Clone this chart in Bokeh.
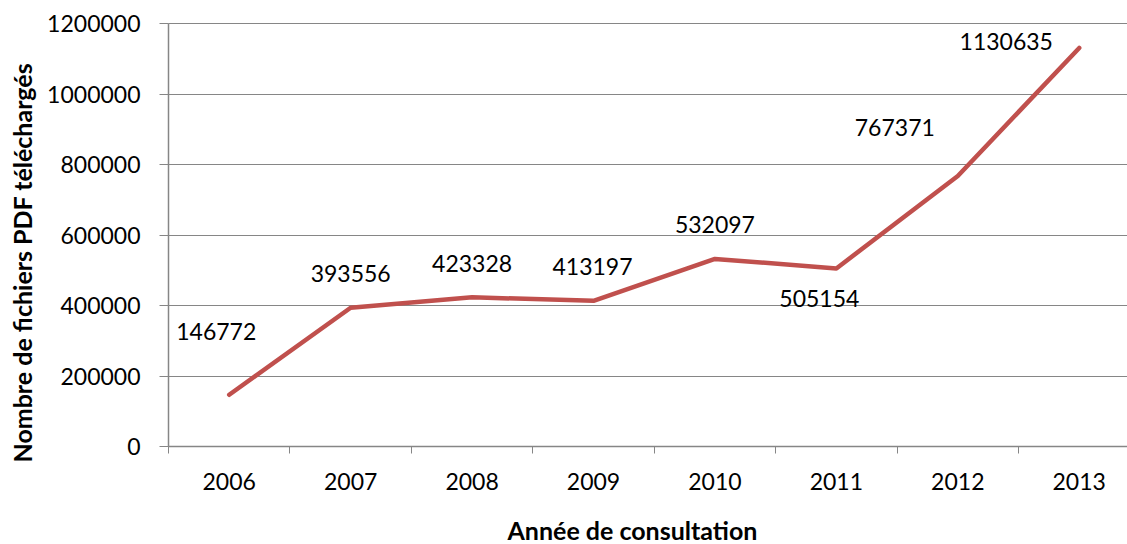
import math
from bokeh.plotting import figure
from bokeh.models import (ColumnDataSource, FixedTicker, BasicTickFormatter, Range1d, Label)
from bokeh.core.properties import value
from bokeh.embed import file_html
from bokeh.resources import INLINE

years = ["2006", "2007", "2008", "2009", "2010", "2011", "2012", "2013"]
downloads = [146772, 393556, 423328, 413197, 532097, 505154, 767371, 1130635]
y_ticks = [0, 200000, 400000, 600000, 800000, 1000000, 1200000]
y_max = 1200000

# label placement offsets (pixels, screen direction) – style only
label_dx = [-13, 0, 0, -1, 0, -17, -63, -73]
label_dy = [-63, -34, -34, -34, -34, 30, -49, -6]

FONT = "Lato"
GRAY = "#868686"
RED = "#C0504D"

xs = list(range(len(years)))
src = ColumnDataSource(dict(x=xs, y=downloads, lab=[str(v) for v in downloads],
                            dx=label_dx, dy=label_dy))

W, H = 1127, 544
axis_px = 168           # pixel position of the value axis
top_px = 23             # pixel position of the y_max gridline
plot_h = 423            # pixel height of the 0..y_max band
below_zero = H - top_px - plot_h
cat_w = 121.43
x0 = -0.5
x_start = x0 - axis_px / cat_w
x_end = x0 + (W - axis_px) / cat_w
per_px = y_max / plot_h

p = figure(width=W, height=H, output_backend="svg", toolbar_location=None,
           x_range=Range1d(x_start, x_end),
           y_range=Range1d(-below_zero * per_px, y_max + top_px * per_px),
           min_border_left=0, min_border_right=0,
           min_border_top=0, min_border_bottom=0)
p.outline_line_color = None
p.background_fill_color = "white"
p.border_fill_color = "white"

p.line("x", "y", source=src, line_color=RED, line_width=4.5, line_cap="round", line_join="round")
p.text("x", "y", text="lab", source=src, x_offset="dx", y_offset="dy",
       text_align="center", text_baseline="middle", text_font=value(FONT),
       text_font_size="23px", text_color="black")

# x axis, drawn at y = 0
xa = p.xaxis[0]
xa.fixed_location = 0
xa.bounds = (x0, x_end)
xa.ticker = FixedTicker(ticks=xs, minor_ticks=[i - 0.5 for i in xs])
xa.major_label_overrides = {i: y for i, y in enumerate(years)}
xa.major_tick_line_color = None
xa.minor_tick_line_color = GRAY
xa.minor_tick_out = 7
xa.minor_tick_in = 0
xa.axis_line_color = GRAY
xa.axis_line_width = 1.5
xa.major_label_text_font = FONT
xa.major_label_text_font_size = "23px"
xa.major_label_text_color = "black"
xa.major_label_standoff = 19

# y axis, drawn at the left edge of the category band
ya = p.yaxis[0]
ya.fixed_location = x0
ya.bounds = (0, y_max)
ya.ticker = FixedTicker(ticks=y_ticks)
ya.formatter = BasicTickFormatter(use_scientific=False)
ya.major_tick_line_color = GRAY
ya.major_tick_out = 9
ya.major_tick_in = 0
ya.minor_tick_line_color = None
ya.axis_line_color = GRAY
ya.axis_line_width = 1.5
ya.major_label_text_font = FONT
ya.major_label_text_font_size = "23px"
ya.major_label_text_color = "black"
ya.major_label_standoff = 19

p.xgrid.grid_line_color = None
p.ygrid.grid_line_color = GRAY
p.ygrid.grid_line_width = 1.2
p.ygrid.cross_bounds = (x0, x_end)

xt = Label(x=507, y=15, x_units="screen", y_units="screen", text="Année de consultation",
           text_align="left", text_baseline="middle",
           text_font=FONT, text_font_size="25px", text_font_style="bold", text_color="black")
p.add_layout(xt)
yt = Label(x=21, y=82, x_units="screen", y_units="screen", angle=math.pi / 2,
           text="Nombre de fichiers PDF téléchargés",
           text_align="left", text_baseline="middle",
           text_font=FONT, text_font_size="25px", text_font_style="bold", text_color="black")
p.add_layout(yt)

open("out.html", "w").write(file_html(p, INLINE))
